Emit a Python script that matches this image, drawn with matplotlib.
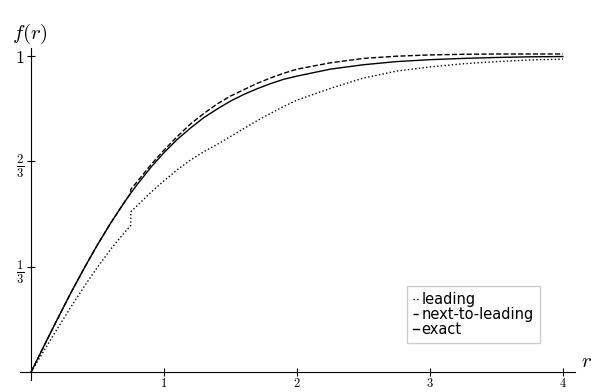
import numpy as np
import matplotlib
matplotlib.use("Agg")
import matplotlib.pyplot as plt

plt.rcParams["mathtext.fontset"] = "cm"

# values
r = [0, 0.1, 0.2, 0.3, 0.4, 0.5, 0.6, 0.7, 0.75, 0.75, 0.8, 0.9, 1.0, 1.1, 1.2,
     1.3, 1.4, 1.5, 1.6, 1.7, 1.8, 1.9, 2.0, 2.25, 2.5, 2.75, 3.0, 3.25, 3.5,
     3.75, 4.0]

exact = [0, 0.085, 0.169, 0.251, 0.329, 0.403, 0.472, 0.536, 0.566, 0.566, 0.594,
         0.647, 0.694, 0.736, 0.772, 0.805, 0.832, 0.857, 0.878, 0.896, 0.912,
         0.926, 0.936, 0.958, 0.972, 0.982, 0.988, 0.992, 0.995, 0.997, 0.998]

next_to_leading = [0, 0.085, 0.169, 0.251, 0.329, 0.403, 0.472, 0.536, 0.566, 0.578,
                   0.603, 0.655, 0.702, 0.745, 0.785, 0.818, 0.848, 0.873, 0.893,
                   0.913, 0.930, 0.945, 0.958, 0.978, 0.992, 0.999, 1.003, 1.005,
                   1.006, 1.006, 1.006]

leading = [0, 0.070, 0.139, 0.206, 0.271, 0.332, 0.389, 0.440, 0.464, 0.507, 0.527,
           0.568, 0.605, 0.640, 0.671, 0.697, 0.720, 0.745, 0.770, 0.795, 0.818,
           0.840, 0.860, 0.897, 0.930, 0.952, 0.965, 0.975, 0.982, 0.987, 0.990]

fig = plt.figure(figsize=(5.94, 3.92), dpi=100)
ax = fig.add_axes([0.0337, 0.0306, 0.934, 0.847])

ax.plot(r, leading, color="black", linestyle=":", linewidth=1.0, label="leading")
ax.plot(r, next_to_leading, color="black", linestyle="--", linewidth=1.0,
        label="next-to-leading")
ax.plot(r, exact, color="black", linestyle="-", linewidth=1.0, label="exact")

ax.set_xlim(-0.083, 4.09)
ax.set_ylim(-0.025, 1.025)

ax.spines["left"].set_position(("data", 0))
ax.spines["bottom"].set_position(("data", 0))
ax.spines["top"].set_visible(False)
ax.spines["right"].set_visible(False)

ax.set_xticks([1, 2, 3, 4])
ax.set_xticklabels(["$1$", "$2$", "$3$", "$4$"], fontsize=9)
ax.set_yticks([1/3, 2/3, 1])
ax.set_yticklabels([r"$\frac{1}{3}$", r"$\frac{2}{3}$", "$1$"], fontsize=13)
ax.tick_params(direction="inout", length=6, width=0.8)
ax.tick_params(axis="x", pad=0.5)
ax.tick_params(axis="y", pad=2)

fig.text(0.02, 0.9, "$f(r)$", fontsize=15)
fig.text(0.978, 0.065, "$r$", fontsize=15)

ax.legend(loc="upper left", bbox_to_anchor=(0.685, 0.27),
          bbox_transform=fig.transFigure, fontsize=10.5, handlelength=0.45,
          handletextpad=0.15, labelspacing=0.0, borderpad=0.4, borderaxespad=0,
          fancybox=False, framealpha=1, edgecolor="#cccccc")

fig.savefig("out.png", dpi=100)
